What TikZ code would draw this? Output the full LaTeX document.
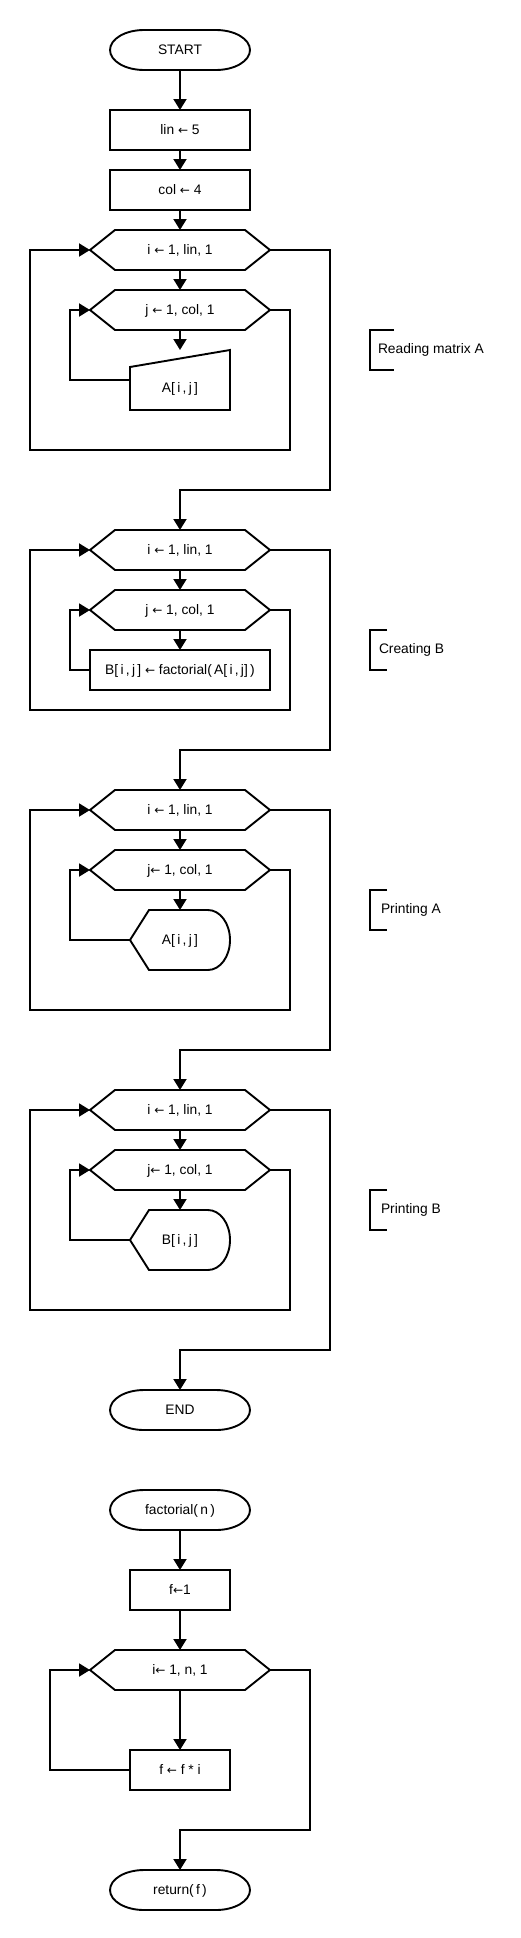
\documentclass[tikz,border=0pt]{standalone}
\usepackage{fontspec}
\setmainfont{Liberation Sans}
\newfontfamily\arrowfont{DejaVu Sans}
\newcommand\lar{{\arrowfont\fontsize{12}{14}\selectfont ←}}
\usetikzlibrary{arrows.meta}
\tikzset{
  base/.style={inner sep=0pt, outer sep=0pt, text height=10pt, text depth=1.6pt, font=\fontsize{13.8}{16}\selectfont},
  procbox/.style={base, draw, line width=1.9pt, minimum width=140pt, minimum height=40pt},
  outline/.style={draw, line width=1.9pt},
  flow/.style={line width=1.9pt, -{Triangle[length=11pt,width=13pt]}},
  plain/.style={line width=1.9pt},
  lbl/.style={inner sep=0pt, outer sep=0pt, anchor=west, font=\fontsize{13.8}{16}\selectfont}
}
\newcommand\termnode[4]{%
  \node[base, minimum width=140pt, minimum height=40pt] (#1) at (#2,#3) {#4};
  \draw[outline] ([xshift=34pt]#1.north west) -- ([xshift=-34pt]#1.north east)
    arc[start angle=90, end angle=-90, x radius=34pt, y radius=20pt]
    -- ([xshift=34pt]#1.south west)
    arc[start angle=270, end angle=90, x radius=34pt, y radius=20pt] -- cycle;}
\newcommand\hexnode[4]{%
  \node[base, minimum width=180pt, minimum height=40pt] (#1) at (#2,#3) {#4};
  \draw[outline] (#1.west) -- ([xshift=25pt]#1.north west) -- ([xshift=-25pt]#1.north east)
    -- (#1.east) -- ([xshift=-25pt]#1.south east) -- ([xshift=25pt]#1.south west) -- cycle;}
\newcommand\disnode[4]{%
  \node[base, minimum width=100pt, minimum height=60pt] (#1) at (#2,#3) {#4};
  \draw[outline] (#1.west) -- ([xshift=19pt]#1.north west) -- ([xshift=-22pt]#1.north east)
    arc[start angle=90, end angle=-90, x radius=22pt, y radius=30pt]
    -- ([xshift=19pt]#1.south west) -- cycle;}
\begin{document}
\begin{tikzpicture}[x=1pt, y=-1pt]
\useasboundingbox (0,0) rectangle (520,1938);

% ---------- section 1: reading A ----------
\termnode{start}{180}{50}{START}
\node[procbox] (lin) at (180,130) {lin \lar{} 5};
\node[procbox] (col) at (180,190) {col \lar{} 4};
\hexnode{hi1}{180}{250}{i \lar{} 1, lin, 1}
\hexnode{hj1}{180}{310}{j \lar{} 1, col, 1}
\node[base, minimum width=100pt, minimum height=60pt, text height=25pt, text depth=0pt] (rd1) at (180,380) {A[\,i\,,\,j\,]};
\draw[outline] ([yshift=-17pt]rd1.north west) -- (rd1.north east) -- (rd1.south east) -- (rd1.south west) -- cycle;

\draw[flow] (start.south) -- (lin.north);
\draw[flow] (lin.south) -- (col.north);
\draw[flow] (col.south) -- (hi1.north);
\draw[flow] (hi1.south) -- (hj1.north);
\draw[flow] (hj1.south) -- (rd1.north);
\draw[flow] (rd1.west) -- ++(-60,0) |- (hj1.west);
\draw[flow] (hj1.east) -- ++(20,0) -- ++(0,140) -| ([xshift=-60pt]hi1.west) -- (hi1.west);

% ---------- section 2: creating B ----------
\hexnode{hi2}{180}{550}{i \lar{} 1, lin, 1}
\hexnode{hj2}{180}{610}{j \lar{} 1, col, 1}
\node[procbox, minimum width=180pt] (asg) at (180,670) {B[\,i\,,\,j\,] \lar{} factorial(\,A[\,i\,,\,j]\,)};
\draw[flow] (hi1.east) -- ++(60,0) -- ++(0,240) -| (hi2.north);
\draw[flow] (hi2.south) -- (hj2.north);
\draw[flow] (hj2.south) -- (asg.north);
\draw[flow] (asg.west) -- ++(-20,0) |- (hj2.west);
\draw[flow] (hj2.east) -- ++(20,0) -- ++(0,100) -| ([xshift=-60pt]hi2.west) -- (hi2.west);

% ---------- section 3: printing A ----------
\hexnode{hi3}{180}{810}{i \lar{} 1, lin, 1}
\hexnode{hj3}{180}{870}{j\lar{} 1, col, 1}
\disnode{dA}{180}{940}{A[\,i\,,\,j\,]}
\draw[flow] (hi2.east) -- ++(60,0) -- ++(0,200) -| (hi3.north);
\draw[flow] (hi3.south) -- (hj3.north);
\draw[flow] (hj3.south) -- (dA.north);
\draw[flow] (dA.west) -- ++(-60,0) |- (hj3.west);
\draw[flow] (hj3.east) -- ++(20,0) -- ++(0,140) -| ([xshift=-60pt]hi3.west) -- (hi3.west);

% ---------- section 4: printing B ----------
\hexnode{hi4}{180}{1110}{i \lar{} 1, lin, 1}
\hexnode{hj4}{180}{1170}{j\lar{} 1, col, 1}
\disnode{dB}{180}{1240}{B[\,i\,,\,j\,]}
\draw[flow] (hi3.east) -- ++(60,0) -- ++(0,240) -| (hi4.north);
\draw[flow] (hi4.south) -- (hj4.north);
\draw[flow] (hj4.south) -- (dB.north);
\draw[flow] (dB.west) -- ++(-60,0) |- (hj4.west);
\draw[flow] (hj4.east) -- ++(20,0) -- ++(0,140) -| ([xshift=-60pt]hi4.west) -- (hi4.west);

\termnode{stop}{180}{1410}{END}
\draw[flow] (hi4.east) -- ++(60,0) -- ++(0,240) -| (stop.north);

% ---------- factorial ----------
\termnode{fact}{180}{1510}{factorial(\,n\,)}
\node[procbox, minimum width=100pt] (f1) at (180,1590) {f\lar{}1};
\hexnode{hf}{180}{1670}{i\lar{} 1, n, 1}
\node[procbox, minimum width=100pt] (ff) at (180,1770) {f \lar{} f * i};
\termnode{ret}{180}{1890}{return(\,f\,)}
\draw[flow] (fact.south) -- (f1.north);
\draw[flow] (f1.south) -- (hf.north);
\draw[flow] (hf.south) -- (ff.north);
\draw[flow] (ff.west) -- ++(-80,0) |- (hf.west);
\draw[flow] (hf.east) -- ++(40,0) -- ++(0,160) -| (ret.north);

% ---------- side labels ----------
\node[lbl] (lab1) at (378,350) {Reading matrix A};
\draw[plain] (394,330) -- (370,330) -- (370,370) -- (394,370);
\node[lbl] (lab2) at (379,650) {Creating B};
\draw[plain] (387,630) -- (370,630) -- (370,670) -- (387,670);
\node[lbl] (lab3) at (381,910) {Printing A};
\draw[plain] (387,890) -- (370,890) -- (370,930) -- (387,930);
\node[lbl] (lab4) at (381,1210) {Printing B};
\draw[plain] (387,1190) -- (370,1190) -- (370,1230) -- (387,1230);
\end{tikzpicture}
\end{document}
